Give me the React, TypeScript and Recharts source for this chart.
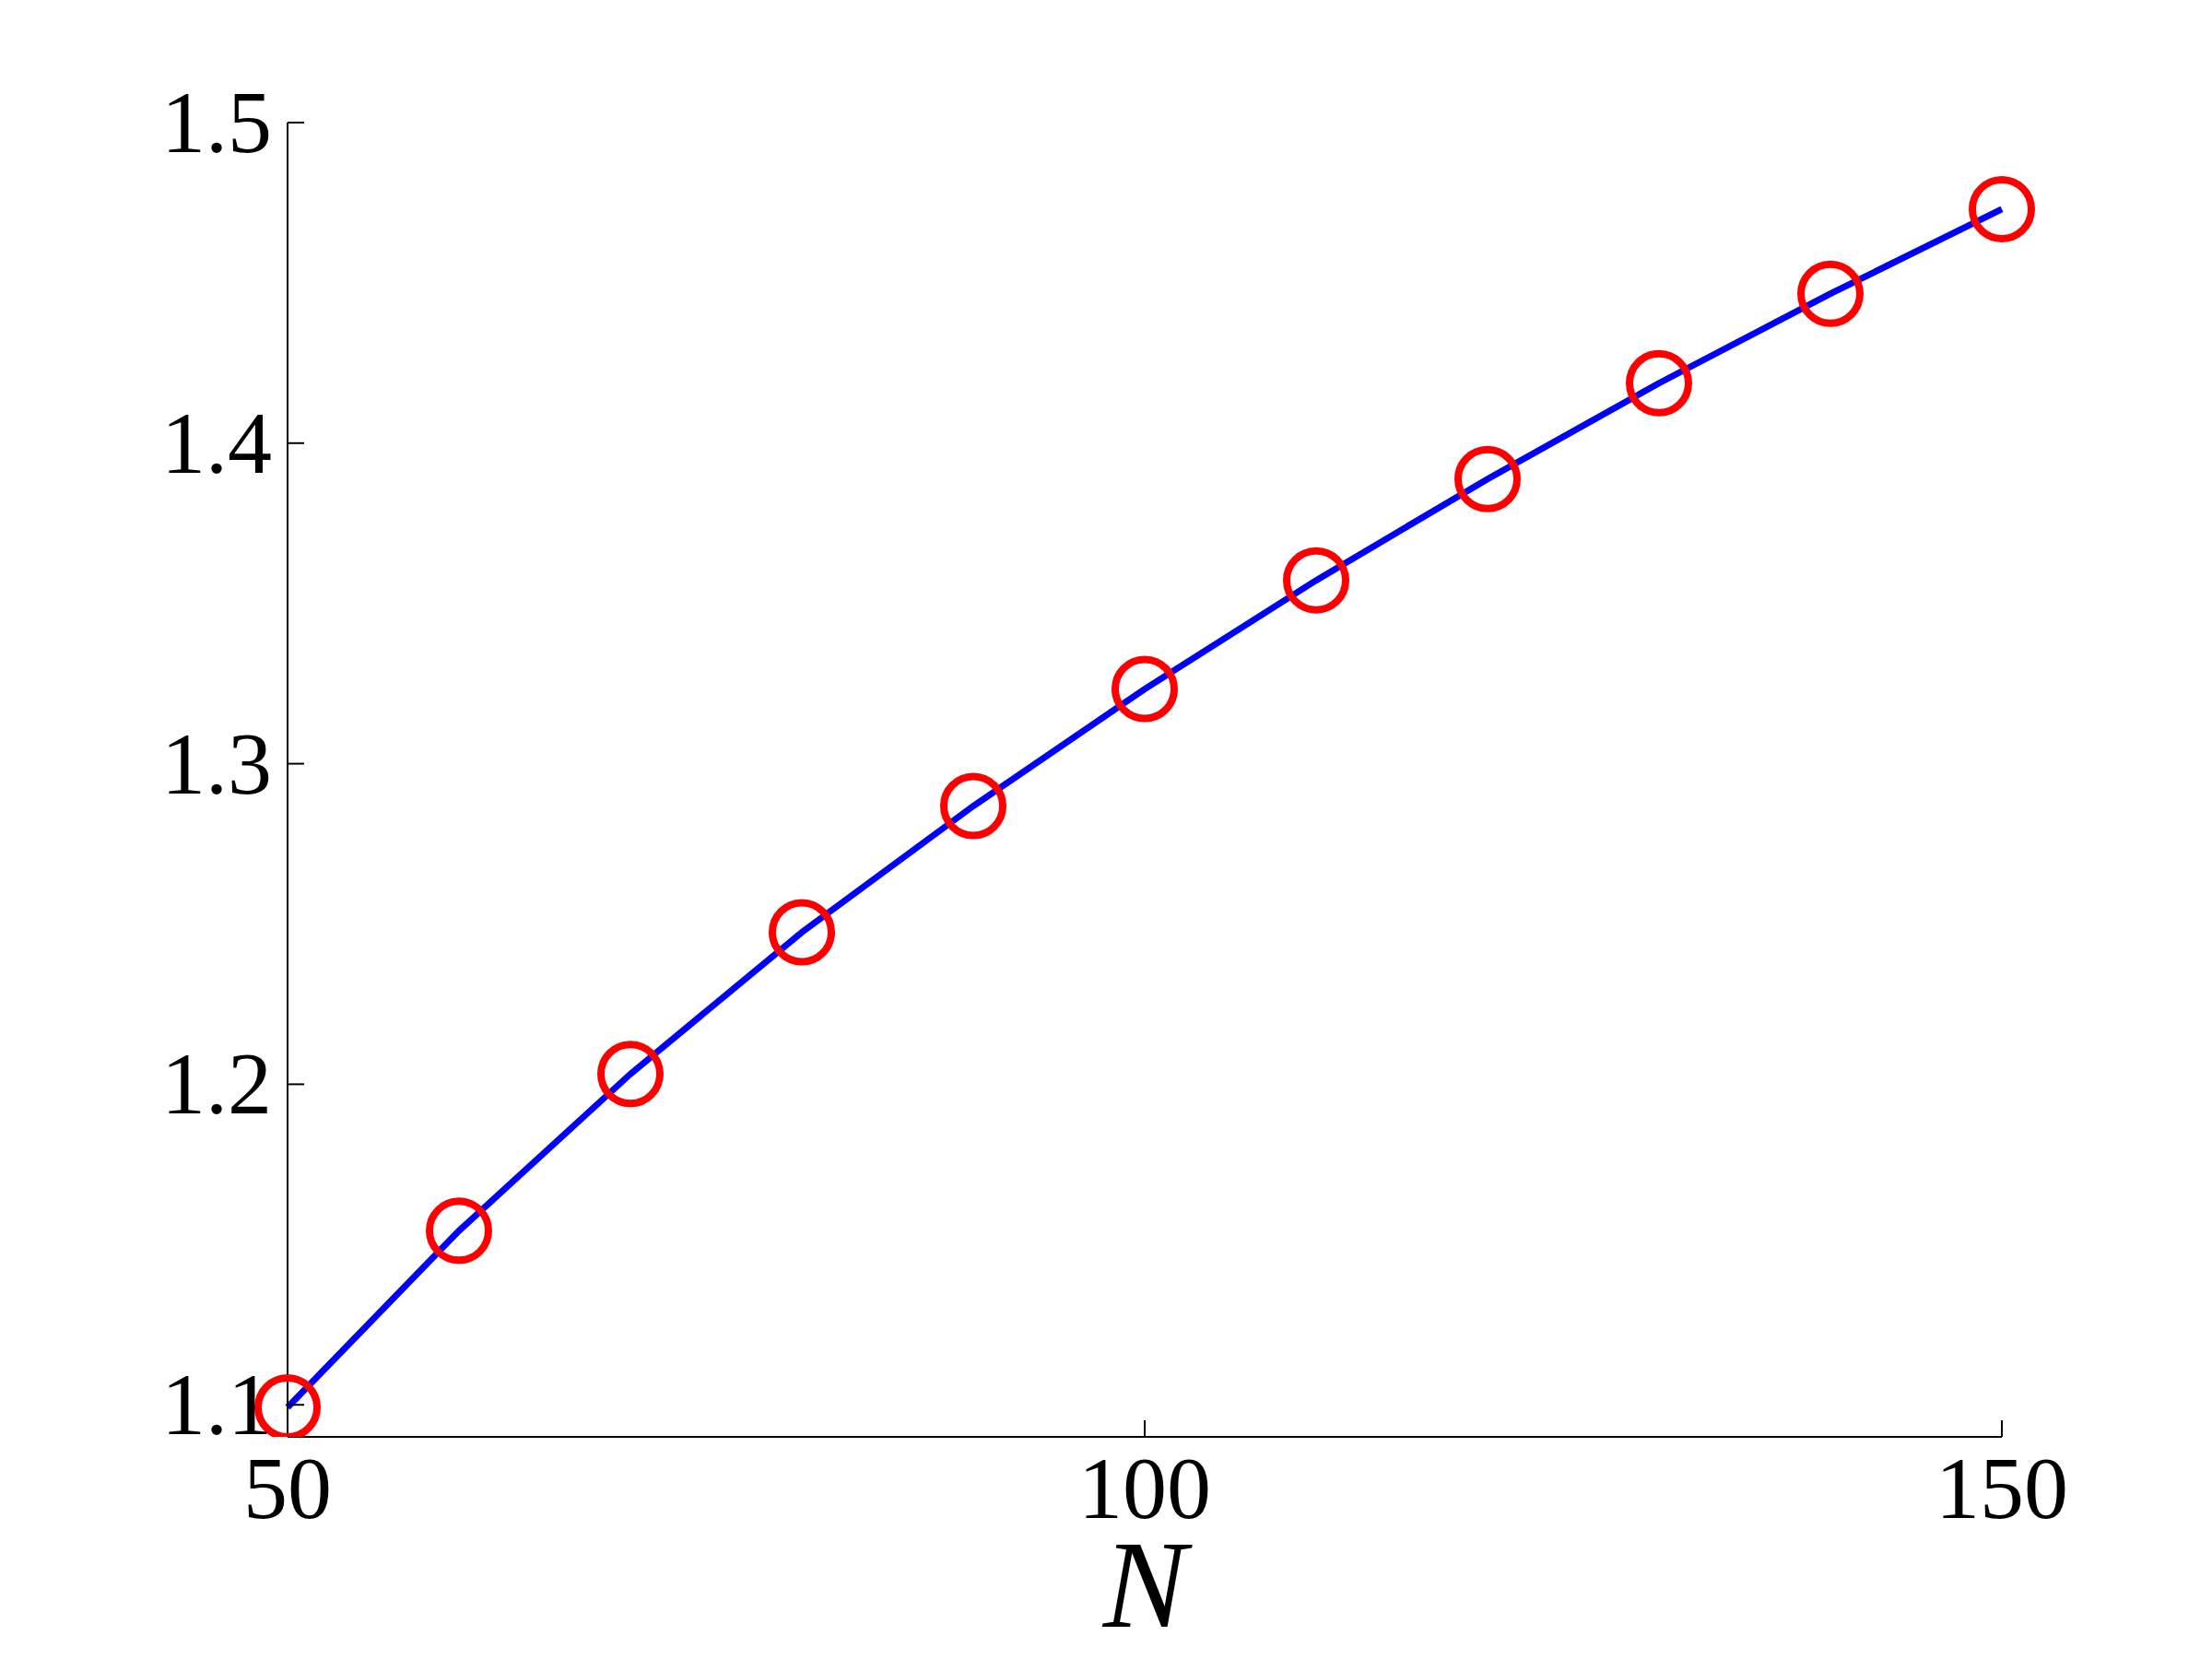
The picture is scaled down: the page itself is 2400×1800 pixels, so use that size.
import { LineChart, Line, XAxis, YAxis } from 'recharts';

// values
const nValues = [50, 60, 70, 80, 90, 100, 110, 120, 130, 140, 150];
const ratioValues = [1.0992, 1.1543, 1.2032, 1.2474, 1.2868, 1.3233, 1.3572, 1.3888, 1.4187, 1.4466, 1.473];

const xTicks = [50, 100, 150];
const yTicks = [1.1, 1.2, 1.3, 1.4, 1.5];

const data = nValues.map((n, i) => ({ n, ratio: ratioValues[i] }));

const FONT = '"Liberation Serif", "DejaVu Serif", serif';

function XTick(props: any) {
  const { x, y, payload } = props;
  return (
    <text x={x} y={y} textAnchor="middle" fontFamily={FONT} fontSize={96} fill="#000">
      {payload.value}
    </text>
  );
}

function YTick(props: any) {
  const { x, y, payload } = props;
  return (
    <text x={x} y={y + 32} textAnchor="end" fontFamily={FONT} fontSize={96} fill="#000">
      {Number(payload.value).toFixed(1)}
    </text>
  );
}

function NLabel(props: any) {
  const vb = props.viewBox;
  return (
    <text
      x={vb.x + vb.width / 2}
      y={vb.y + 206}
      textAnchor="middle"
      fontFamily={FONT}
      fontStyle="italic"
      fontSize={136}
      fill="#000"
    >
      N
    </text>
  );
}

export default function App() {
  return (
    <div style={{ position: 'absolute', left: 0, top: 0, width: 2400, height: 1800, background: '#fff' }}>
      <LineChart
        width={2400}
        height={1800}
        data={data}
        margin={{ top: 133, right: 228, bottom: 41, left: 212 }}
      >
        <XAxis
          dataKey="n"
          type="number"
          domain={[50, 150]}
          ticks={xTicks}
          height={200}
          stroke="#000"
          strokeWidth={2}
          tickSize={-18}
          tickMargin={106}
          tick={<XTick />}
          label={<NLabel />}
        />
        <YAxis
          type="number"
          domain={[1.09, 1.5]}
          ticks={yTicks}
          allowDataOverflow
          width={100}
          stroke="#000"
          strokeWidth={2}
          tickSize={-18}
          tickMargin={35}
          tick={<YTick />}
        />
        <Line
          dataKey="ratio"
          type="linear"
          stroke="none"
          isAnimationActive={false}
          dot={{ r: 32, stroke: '#ff0000', strokeWidth: 8, fill: 'none' }}
        />
        <Line
          dataKey="ratio"
          type="linear"
          stroke="#0000ff"
          strokeWidth={7}
          dot={false}
          isAnimationActive={false}
        />
      </LineChart>
    </div>
  );
}
